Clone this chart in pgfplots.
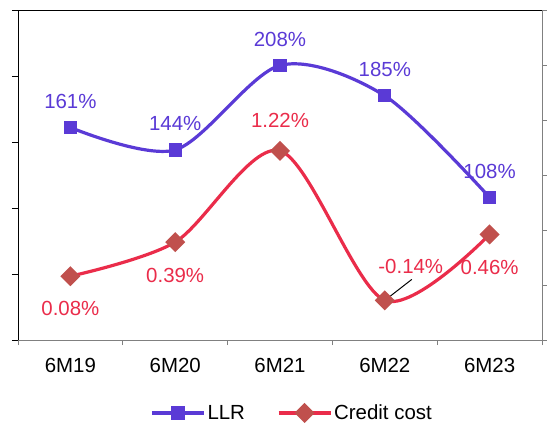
\documentclass[border=0pt]{standalone}
\usepackage{fontspec}
\setmainfont{Liberation Sans}
\usepackage{pgfplots}
\usepackage{pgfplotstable}
\pgfplotsset{compat=1.18}

\definecolor{llr}{RGB}{90,58,214}
\definecolor{ccline}{RGB}{234,44,74}
\definecolor{ccmark}{RGB}{192,80,77}
\definecolor{axgray}{RGB}{128,128,128}

% LLR (left axis, %)
\pgfplotstableread{
x y
0 161
1 144
2 208
3 185
4 108
}\llrdata

% Credit cost (right axis, %), with label offsets in bp
\pgfplotstableread{
x y dx dy
0 0.08 0 -32
1 0.39 0 -33
2 1.22 0 30
3 -0.14 26 34
4 0.46 0 -33
}\ccdata

\newcommand\lblfont{\fontsize{20.5}{24}\selectfont}

\begin{document}
\begin{tikzpicture}
\begin{axis}[
  name=main,
  scale only axis, width=524bp, height=330bp,
  xmin=-0.5, xmax=4.5, ymin=0, ymax=250,
  axis x line*=bottom, axis y line*=left,
  x axis line style={axgray, line width=0.8pt, -},
  y axis line style={black, line width=0.8pt, -},
  tick align=outside,
  xtick={0,...,4}, xticklabels={6M19,6M20,6M21,6M22,6M23},
  major x tick style={draw=none},
  minor xtick={-0.5,0.5,...,4.5},
  minor x tick style={axgray, line width=0.8pt},
  minor tick length=5bp,
  ytick={0,50,...,250}, yticklabels={},
  major y tick style={black, line width=0.8pt},
  major tick length=6bp,
  xticklabel style={font=\lblfont, yshift=-9bp},
  clip=false,
]
\addplot[llr, line width=3.2bp, smooth, mark=square*, mark size=5bp,
  mark options={solid, fill=llr},
  nodes near coords={\pgfmathprintnumber[fixed,precision=0,assume math mode=true]{\pgfplotspointmeta}\%},
  point meta=y,
  every node near coord/.append style={font=\lblfont, text=llr, anchor=center, yshift=26bp}]
  table[x=x, y=y]{\llrdata};
\draw[black, line width=0.8pt] (rel axis cs:0,1) -- (rel axis cs:1,1);
\end{axis}

\begin{axis}[
  scale only axis, width=524bp, height=330bp,
  xmin=-0.5, xmax=4.5, ymin=-0.5, ymax=2.5,
  hide x axis,
  axis y line*=right,
  y axis line style={axgray, line width=0.8pt, -},
  tick align=outside,
  ytick={-0.5,0,...,2.5}, yticklabels={},
  major y tick style={axgray, line width=0.8pt},
  major tick length=5bp,
  clip=false,
  legend style={at={(axis description cs:0.523,-0.221)}, anchor=center,
    draw=none, fill=none, font=\lblfont, legend columns=2,
    /tikz/every even column/.append style={column sep=30bp}},
  legend image code/.code={\draw[mark repeat=2, mark phase=2, #1]
    plot coordinates {(0bp,0bp) (26bp,0bp) (52bp,0bp)};},
]
\addlegendimage{llr, line width=3.2bp, mark=square*, mark size=5bp, mark options={solid, fill=llr}}
\addlegendentry{LLR}
\addplot[ccline, line width=3.2bp, smooth, mark=square*, mark size=5.5bp,
  mark options={solid, rotate=45, fill=ccmark, draw=ccmark},
  nodes near coords={\pgfmathprintnumber[fixed,fixed zerofill,precision=2,assume math mode=true]{\pgfplotspointmeta}\%},
  point meta=y,
  visualization depends on={\thisrow{dx}\as\labeldx},
  visualization depends on={\thisrow{dy}\as\labeldy},
  every node near coord/.append style={font=\lblfont, text=ccline, anchor=center,
    xshift=\labeldx bp, yshift=\labeldy bp}]
  table[x=x, y=y]{\ccdata};
\addlegendentry{Credit cost}
\draw[black, line width=1bp] (axis cs:3,-0.14) -- ++(27bp,21bp);
\end{axis}

\pgfresetboundingbox
\path ([shift={(-18bp,-88bp)}]main.south west) rectangle ([shift={(5bp,10bp)}]main.north east);
\end{tikzpicture}
\end{document}
